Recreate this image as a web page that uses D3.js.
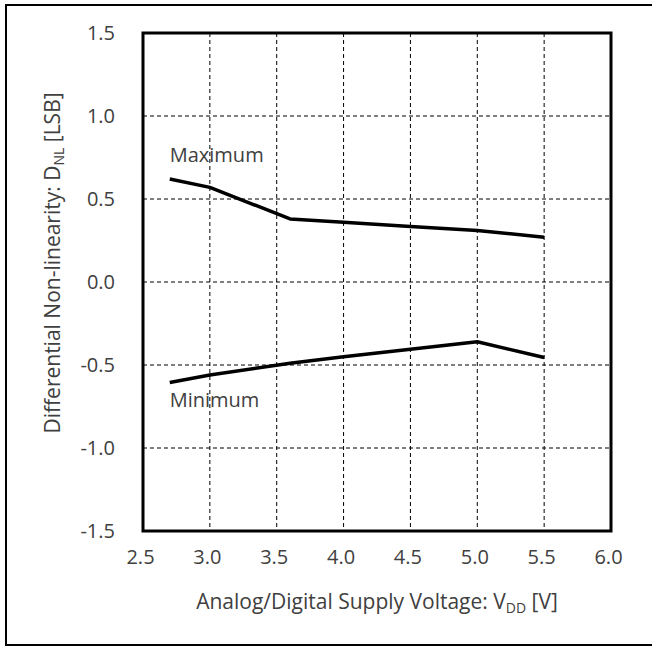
<!DOCTYPE html>
<html>
<head>
<meta charset="utf-8">
<script src="https://cdn.jsdelivr.net/npm/d3@7"></script>
<style>
  body { margin: 0; background: #fff; }
  text { font-family: "Open Sans", Lato, sans-serif; fill: #404040; }
</style>
</head>
<body>
<svg width="652" height="646"></svg>
<script>
const width = 652,
    height = 646;

// supply voltage [V]
const vddMax = [2.7, 3.0, 3.6, 4.0, 4.5, 5.0, 5.5];
const dnlMax = [0.62, 0.57, 0.38, 0.36, 0.335, 0.31, 0.27];
const vddMin = [2.7, 3.0, 3.6, 4.0, 4.5, 5.0, 5.5];
const dnlMin = [-0.605, -0.56, -0.49, -0.45, -0.405, -0.36, -0.455];

const xTicks = [2.5, 3.0, 3.5, 4.0, 4.5, 5.0, 5.5, 6.0];
const yTicks = [-1.5, -1.0, -0.5, 0.0, 0.5, 1.0, 1.5];

const plot = { left: 143, right: 611, top: 33, bottom: 531 };
const fs = 20;

const svg = d3.select("svg");

// outer frame (right edge runs off the page)
svg.append("rect")
    .attr("x", 6).attr("y", 5)
    .attr("width", 660).attr("height", 640)
    .attr("fill", "none")
    .attr("stroke", "#000")
    .attr("stroke-width", 2);

const x = d3.scaleLinear().domain([2.5, 6.0]).range([plot.left, plot.right]);
const y = d3.scaleLinear().domain([-1.5, 1.5]).range([plot.bottom, plot.top]);

// plain hyphen for negatives, like the original
const fmt = d => d3.format(".1f")(d).replace("\u2212", "-");

// dashed grid
svg.append("g")
    .selectAll("line")
    .data(xTicks.slice(1, -1))
    .join("line")
    .attr("x1", d => x(d)).attr("x2", d => x(d))
    .attr("y1", plot.top).attr("y2", plot.bottom)
    .attr("stroke", "#000")
    .attr("stroke-dasharray", "4,3");

svg.append("g")
    .selectAll("line")
    .data(yTicks.slice(1, -1))
    .join("line")
    .attr("x1", plot.left).attr("x2", plot.right)
    .attr("y1", d => y(d)).attr("y2", d => y(d))
    .attr("stroke", "#000")
    .attr("stroke-dasharray", "4,3");

// axes: labels only, the frame is drawn separately
const xAxis = svg.append("g")
    .attr("transform", "translate(-3," + plot.bottom + ")")
    .call(d3.axisBottom(x).tickValues(xTicks).tickFormat(fmt).tickSize(0).tickPadding(19));
const yAxis = svg.append("g")
    .attr("transform", "translate(" + plot.left + ",0)")
    .call(d3.axisLeft(y).tickValues(yTicks).tickFormat(fmt).tickSize(0).tickPadding(28));
[xAxis, yAxis].forEach(a => {
    a.select(".domain").remove();
    a.selectAll("text")
        .style("font-size", fs + "px")
        .style("fill", "#404040")
        .attr("font-family", null);
});

svg.append("rect")
    .attr("x", plot.left).attr("y", plot.top)
    .attr("width", plot.right - plot.left)
    .attr("height", plot.bottom - plot.top)
    .attr("fill", "none")
    .attr("stroke", "#000")
    .attr("stroke-width", 3);

const line = d3.line()
    .x(d => x(d[0]))
    .y(d => y(d[1]));

[[vddMax, dnlMax], [vddMin, dnlMin]].forEach(([vs, ds]) => {
    svg.append("path")
        .datum(vs.map((v, i) => [v, ds[i]]))
        .attr("d", line)
        .attr("fill", "none")
        .attr("stroke", "#000")
        .attr("stroke-width", 3.5)
        .attr("stroke-linejoin", "round");
});

svg.append("text")
    .attr("x", x(2.7)).attr("y", 162)
    .style("font-size", fs + "px")
    .text("Maximum");
svg.append("text")
    .attr("x", x(2.7)).attr("y", 407)
    .style("font-size", fs + "px")
    .text("Minimum");

// axis titles
const xt = svg.append("text")
    .attr("x", (plot.left + plot.right) / 2)
    .attr("y", 609)
    .attr("text-anchor", "middle")
    .style("font-size", "21px");
xt.append("tspan").text("Analog/Digital Supply Voltage: V");
xt.append("tspan").attr("dy", 4).style("font-size", "14px").text("DD");
xt.append("tspan").attr("dy", -4).text(" [V]");

const yt = svg.append("text")
    .attr("transform", "translate(60,263) rotate(-90)")
    .attr("text-anchor", "middle")
    .style("font-size", "21px");
yt.append("tspan").text("Differential Non-linearity: D");
yt.append("tspan").attr("dy", 4).style("font-size", "14px").text("NL");
yt.append("tspan").attr("dy", -4).text(" [LSB]");
</script>
</body>
</html>
